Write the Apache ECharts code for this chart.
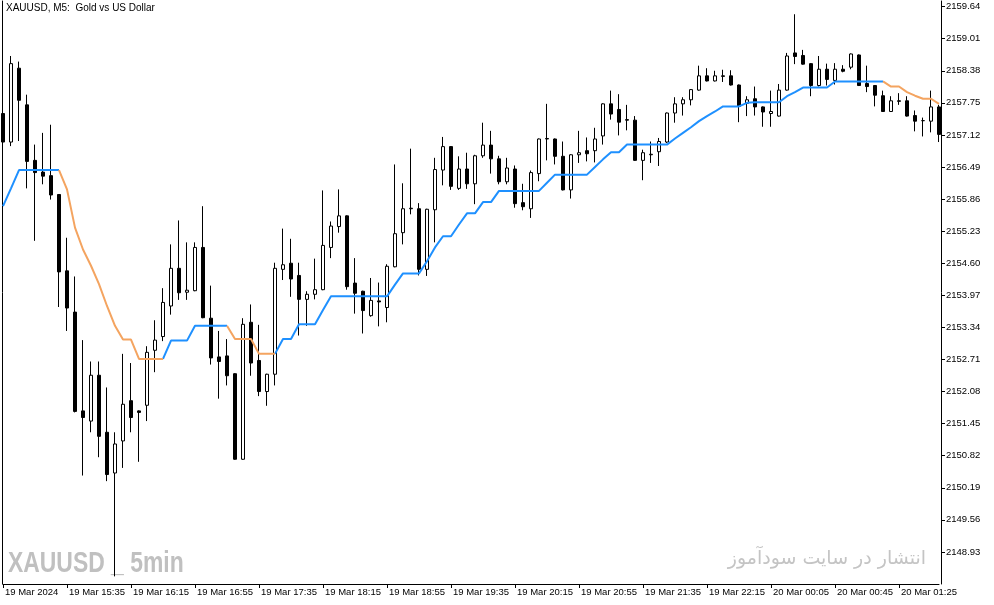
<!DOCTYPE html>
<html>
<head>
<meta charset="utf-8">
<script src="https://cdn.jsdelivr.net/npm/echarts@6/dist/echarts.min.js"></script>
<style>
html,body{margin:0;padding:0;background:#fff;}
#chart{width:994px;height:605px;}
</style>
</head>
<body>
<div id="chart"></div>
<script>
// ---- categories (5-minute bars) ----
var times19 = ['14:55',
 '15:00','15:05','15:10','15:15','15:20','15:25','15:30','15:35','15:40','15:45','15:50','15:55',
 '16:00','16:05','16:10','16:15','16:20','16:25','16:30','16:35','16:40','16:45','16:50','16:55',
 '17:00','17:05','17:10','17:15','17:20','17:25','17:30','17:35','17:40','17:45','17:50','17:55',
 '18:00','18:05','18:10','18:15','18:20','18:25','18:30','18:35','18:40','18:45','18:50','18:55',
 '19:00','19:05','19:10','19:15','19:20','19:25','19:30','19:35','19:40','19:45','19:50','19:55',
 '20:00','20:05','20:10','20:15','20:20','20:25','20:30','20:35','20:40','20:45','20:50','20:55',
 '21:00','21:05','21:10','21:15','21:20','21:25','21:30','21:35','21:40','21:45','21:50','21:55',
 '22:00','22:05','22:10','22:15','22:20','22:25','22:30','22:35','22:40','22:45','22:50'];
var times20 = ['00:05','00:10','00:15','00:20','00:25','00:30','00:35','00:40','00:45','00:50','00:55',
 '01:00','01:05','01:10','01:15','01:20','01:25','01:30','01:35','01:40','01:45','01:50'];
var categories = times19.map(function(t){return '19 Mar ' + t;})
  .concat(times20.map(function(t){return '20 Mar ' + t;}));
var firstLabel = '19 Mar 2024';

// ---- OHLC values ----
var opens = [2157.54,2156.98,2158.43,2157.71,2156.62,2156.39,2156.32,2155.95,2154.45,2153.64,
 2151.70,2151.50,2152.40,2151.28,2150.48,2151.11,2151.90,2151.70,2151.81,2152.89,
 2153.16,2153.76,2154.50,2154.03,2154.06,2154.91,2153.52,2152.76,2152.78,2152.43,
 2150.75,2153.44,2152.69,2152.08,2152.42,2154.48,2154.60,2154.36,2153.89,2153.99,
 2154.08,2154.91,2155.32,2155.53,2154.21,2154.05,2153.57,2153.86,2153.73,2154.53,
 2155.20,2155.67,2155.67,2154.48,2155.65,2156.43,2156.89,2156.07,2156.45,2156.16,
 2156.71,2156.92,2156.65,2156.20,2156.45,2155.79,2155.67,2156.36,2157.04,2157.04,
 2156.70,2156.04,2156.73,2156.81,2156.81,2157.10,2157.73,2157.62,2157.42,2157.41,
 2156.62,2156.73,2156.79,2156.98,2157.55,2157.73,2157.81,2158.00,2158.28,2158.18,
 2158.28,2158.28,2158.10,2157.74,2157.83,2157.67,2157.54,2157.49,2158.00,2158.73,
 2158.68,2158.52,2158.09,2158.41,2158.19,2158.41,2158.45,2158.69,2158.13,2158.09,
 2157.89,2157.58,2157.79,2157.79,2157.50,2157.40,2157.39,2157.67];
var closes = [2156.98,2158.52,2157.80,2156.60,2156.38,2156.31,2155.94,2154.43,2153.72,2151.69,
 2151.57,2152.40,2151.20,2150.45,2151.05,2151.83,2151.57,2151.67,2152.85,2153.09,
 2153.83,2154.50,2154.02,2154.07,2154.91,2153.53,2152.74,2152.67,2152.39,2150.75,
 2153.40,2152.64,2152.08,2152.42,2154.50,2154.57,2154.29,2153.89,2153.99,2154.08,
 2154.95,2155.33,2155.53,2154.14,2154.01,2153.67,2153.87,2153.84,2154.54,2155.18,
 2155.67,2155.68,2154.48,2155.66,2156.44,2156.89,2156.11,2156.45,2156.16,2156.71,
 2156.92,2156.65,2156.20,2156.47,2155.77,2155.71,2156.38,2157.04,2157.05,2156.70,
 2156.04,2156.73,2156.77,2156.75,2157.04,2157.73,2157.53,2157.37,2157.41,2156.62,
 2156.77,2156.74,2156.99,2157.55,2157.73,2157.81,2158.01,2158.28,2158.18,2158.28,
 2158.27,2158.10,2157.68,2157.81,2157.67,2157.57,2157.58,2158.00,2158.67,2158.66,
 2158.51,2158.09,2158.41,2158.21,2158.41,2158.37,2158.71,2158.09,2158.07,2157.90,
 2157.58,2157.79,2157.78,2157.49,2157.39,2157.40,2157.67,2157.13];
var lows = [2156.97,2156.90,2157.00,2156.07,2155.04,2156.15,2155.85,2153.74,2153.27,2151.67,
 2150.43,2151.28,2150.79,2150.32,2148.45,2150.58,2151.28,2150.70,2151.50,2152.46,
 2153.07,2153.59,2153.88,2153.88,2154.05,2153.52,2152.61,2151.94,2152.20,2150.74,
 2150.74,2152.39,2151.99,2151.80,2152.20,2154.27,2153.94,2153.18,2153.37,2153.89,
 2154.07,2154.70,2155.20,2154.08,2153.61,2153.22,2153.55,2153.36,2153.44,2154.52,
 2154.97,2155.56,2154.36,2154.35,2155.01,2156.13,2156.04,2156.04,2156.06,2155.76,
 2156.67,2156.36,2156.15,2156.15,2155.69,2155.64,2155.49,2156.21,2156.62,2156.54,
 2156.03,2155.87,2156.57,2156.60,2156.58,2156.93,2157.42,2157.11,2157.21,2156.61,
 2156.23,2156.57,2156.51,2156.96,2157.36,2157.50,2157.70,2157.99,2158.17,2158.17,
 2158.16,2158.09,2157.37,2157.49,2157.50,2157.28,2157.28,2157.48,2157.99,2158.51,
 2158.50,2157.88,2158.07,2158.09,2158.11,2158.35,2158.41,2158.08,2157.96,2157.68,
 2157.57,2157.57,2157.71,2157.48,2157.19,2157.09,2157.17,2156.98];
var highs = [2157.56,2158.67,2158.56,2157.91,2156.93,2157.16,2157.32,2155.95,2155.10,2154.34,
 2153.09,2152.67,2152.67,2152.16,2151.28,2152.82,2152.64,2151.71,2152.97,2153.48,
 2154.11,2154.97,2155.44,2155.01,2155.01,2155.72,2154.16,2153.27,2153.11,2152.44,
 2153.52,2153.79,2153.39,2152.43,2154.61,2155.28,2155.08,2154.61,2154.05,2154.69,
 2156.03,2155.42,2156.05,2155.54,2154.70,2154.06,2154.31,2154.22,2154.58,2156.54,
 2156.17,2156.85,2155.78,2155.67,2156.67,2157.08,2156.90,2156.70,2156.77,2156.73,
 2157.36,2157.20,2156.71,2156.67,2156.52,2156.16,2156.42,2157.05,2157.73,2157.05,
 2156.99,2156.74,2157.20,2157.07,2157.26,2157.74,2157.99,2157.92,2157.71,2157.49,
 2156.83,2156.99,2157.06,2157.56,2157.86,2157.86,2158.02,2158.48,2158.43,2158.38,
 2158.40,2158.39,2158.11,2157.88,2158.07,2157.68,2157.99,2158.12,2158.73,2159.49,
 2158.79,2158.53,2158.67,2158.52,2158.53,2158.49,2158.72,2158.70,2158.48,2158.10,
 2157.99,2157.88,2157.94,2157.88,2157.60,2157.46,2157.99,2157.71];

// ---- trend line indicator ----
var trendLine = [2155.72,2156.07,2156.43,2156.43,2156.43,2156.43,2156.43,2156.43,2156.05,2155.30,
 2154.87,2154.55,2154.19,2153.76,2153.37,2153.10,2153.10,2152.72,2152.72,2152.72,
 2152.72,2153.08,2153.08,2153.08,2153.37,2153.37,2153.37,2153.37,2153.37,2153.11,
 2153.11,2153.11,2152.82,2152.82,2152.82,2153.11,2153.11,2153.40,2153.40,2153.40,
 2153.68,2153.95,2153.95,2153.95,2153.95,2153.95,2153.95,2153.95,2153.95,2154.18,
 2154.40,2154.40,2154.40,2154.64,2154.91,2155.13,2155.13,2155.36,2155.58,2155.58,
 2155.80,2155.80,2156.02,2156.02,2156.02,2156.02,2156.02,2156.02,2156.18,2156.34,
 2156.34,2156.34,2156.34,2156.34,2156.49,2156.64,2156.78,2156.78,2156.93,2156.93,
 2156.93,2156.93,2156.93,2156.93,2157.05,2157.16,2157.27,2157.39,2157.49,2157.58,
 2157.68,2157.68,2157.68,2157.75,2157.76,2157.76,2157.76,2157.76,2157.88,2157.96,
 2158.05,2158.05,2158.05,2158.05,2158.17,2158.17,2158.17,2158.17,2158.17,2158.17,
 2158.17,2158.07,2158.07,2157.96,2157.89,2157.83,2157.83,2157.73];

// ---- y axis ticks ----
var yMin = 2148.30, yMax = 2159.75, yStep = 0.63;

// build candle data and colored trend segments
var candleData = opens.map(function(o, i){ return [o, closes[i], lows[i], highs[i]]; });
var upLine = trendLine.map(function(){return null;});
var downLine = trendLine.map(function(){return null;});
var rising = true;
for (var i = 0; i < trendLine.length - 1; i++) {
  if (trendLine[i+1] > trendLine[i]) rising = true;
  else if (trendLine[i+1] < trendLine[i]) rising = false;
  var tgt = rising ? upLine : downLine;
  tgt[i] = trendLine[i]; tgt[i+1] = trendLine[i+1];
}

var FONT = "'Liberation Sans', Arial, sans-serif";
var chart = echarts.init(document.getElementById('chart'), null, {renderer:'canvas'});
chart.setOption({
  animation: false,
  backgroundColor: '#ffffff',
  title: {
    text: 'XAUUSD, M5:  Gold vs US Dollar',
    left: 6, top: 3, padding: 0,
    textStyle: {fontFamily: FONT, fontSize: 10, fontWeight: 'normal', color: '#000'}
  },
  grid: {left: 3, right: 55, top: 1, bottom: 21, containLabel: false},
  xAxis: {
    type: 'category',
    data: categories,
    boundaryGap: false,
    axisLine: {lineStyle: {color: '#000', width: 1}},
    axisTick: {show: true, interval: 7, length: 4, lineStyle: {color: '#000'}},
    axisLabel: {
      interval: 7, align: 'left', margin: 3, color: '#000',
      fontFamily: FONT, fontSize: 9.5, padding: [0,0,0,2],
      formatter: function(v, idx){ return idx === 0 ? firstLabel : v; }
    },
    splitLine: {show: false}
  },
  yAxis: [{
    type: 'value', position: 'right', offset: 2,
    min: yMin, max: yMax, interval: yStep, scale: true,
    axisLine: {show: true, lineStyle: {color: '#000', width: 1}},
    axisTick: {show: true, length: 4, lineStyle: {color: '#000'}},
    axisLabel: {
      margin: 5, color: '#000', fontFamily: FONT, fontSize: 9.5,
      showMinLabel: false, showMaxLabel: false,
      formatter: function(v){ return v.toFixed(2); }
    },
    splitLine: {show: false}
  }, {
    type: 'value', position: 'left', offset: 1,
    axisLine: {show: true, lineStyle: {color: '#000', width: 1}},
    axisTick: {show: false}, axisLabel: {show: false}, splitLine: {show: false}
  }],
  graphic: [{
    type: 'text', x: 8, y: 549, scaleX: 0.79, z: 0,
    style: {text: 'XAUUSD _ 5min', fill: '#c0c0c0', textVerticalAlign: 'top',
      font: "bold 29px 'Liberation Sans', Arial, sans-serif"}
  }, {
    type: 'text', right: 68, top: 550, z: 0,
    style: {text: 'انتشار در سایت سودآموز', fill: '#c4c4c4',
      font: "19px 'DejaVu Sans', sans-serif"}
  }],
  series: [{
    type: 'candlestick',
    data: candleData,
    barWidth: 4,
    itemStyle: {color: '#ffffff', color0: '#000000', borderColor: '#000000', borderColor0: '#000000', borderWidth: 1},
    z: 2
  }, {
    type: 'line', data: upLine, showSymbol: false, symbol: 'none',
    connectNulls: false, lineStyle: {color: '#1e90ff', width: 2}, z: 3
  }, {
    type: 'line', data: downLine, showSymbol: false, symbol: 'none',
    connectNulls: false, lineStyle: {color: '#f4a460', width: 2}, z: 4
  }]
});
</script>
</body>
</html>
